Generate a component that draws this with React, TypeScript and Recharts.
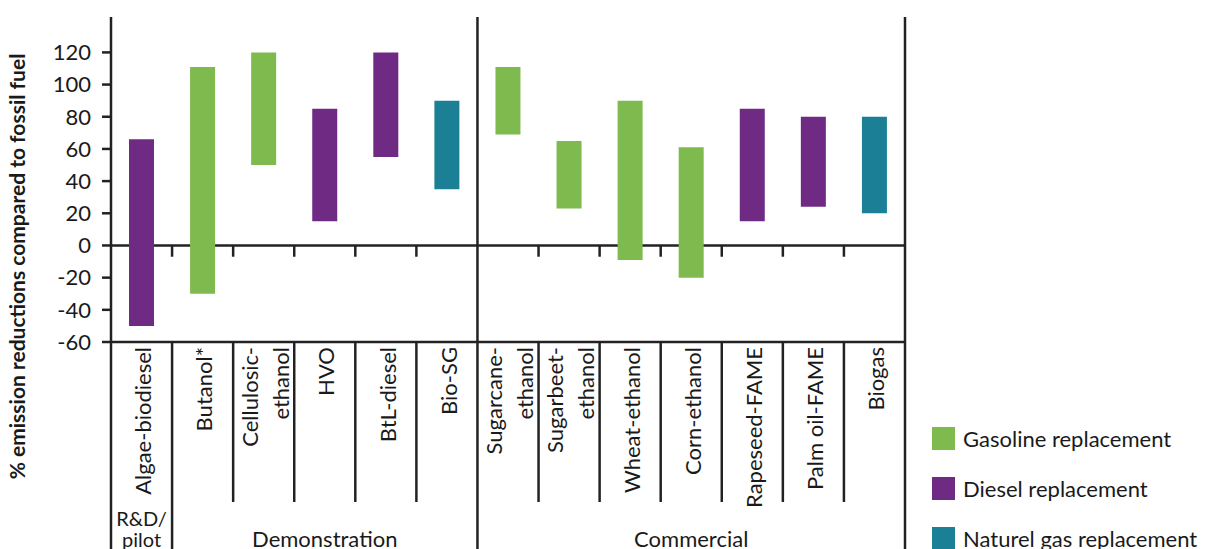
import React from 'react';
import { ComposedChart, Bar, Cell, XAxis, YAxis, ReferenceLine, Legend } from 'recharts';

// fuels, left to right
const categories = [
  'Algae-biodiesel', 'Butanol*', 'Cellulosic-ethanol', 'HVO', 'BtL-diesel', 'Bio-SG',
  'Sugarcane-ethanol', 'Sugarbeet-ethanol', 'Wheat-ethanol', 'Corn-ethanol',
  'Rapeseed-FAME', 'Palm oil-FAME', 'Biogas',
];
const categoryLines = [
  ['Algae-biodiesel'], ['Butanol*'], ['Cellulosic-', 'ethanol'], ['HVO'], ['BtL-diesel'], ['Bio-SG'],
  ['Sugarcane-', 'ethanol'], ['Sugarbeet-', 'ethanol'], ['Wheat-ethanol'], ['Corn-ethanol'],
  ['Rapeseed-FAME'], ['Palm oil-FAME'], ['Biogas'],
];
const lows = [-50, -30, 50, 15, 55, 35, 69, 23, -9, -20, 15, 24, 20];
const highs = [66, 111, 120, 85, 120, 90, 111, 65, 90, 61, 85, 80, 80];
const fuelTypes = ['diesel', 'gasoline', 'gasoline', 'diesel', 'diesel', 'gas', 'gasoline', 'gasoline', 'gasoline', 'gasoline', 'diesel', 'diesel', 'gas'];

const yTicks = [-60, -40, -20, 0, 20, 40, 60, 80, 100, 120];

const groupTitles = ['Advanced biofuels', 'Conventional biofuels'];
const groupStarts = [0, 6];
const groupSizes = [6, 7];

const stageLabels = [['R&D/', 'pilot'], ['Demonstration'], ['Commercial']];
const stageStarts = [0, 1, 6];
const stageSizes = [1, 5, 7];

const legendLabels = ['Gasoline replacement', 'Diesel replacement', 'Naturel gas replacement'];
const legendKeys = ['gasoline', 'diesel', 'gas'];

const COLORS: Record<string, string> = {
  gasoline: '#7fba4f',
  diesel: '#6f2a84',
  gas: '#1b8096',
};

const FONT = 'Lato, "Open Sans", sans-serif';
const INK = '#1a1a1a';
const LINE = '#222222';
const LW = 2.5;

const W = 1208;
const H = 549;
const LEFT = 111;
const RIGHT = 303;
const TOP = 17;
const X_AXIS_H = 207;
const BAND = (W - LEFT - RIGHT) / categories.length;

const data = categories.map((name, i) => ({
  name,
  range: [lows[i], highs[i]],
  type: fuelTypes[i],
}));

const CategoryTick = (props: any) => {
  const { x, y, payload } = props;
  const i = payload.index ?? props.index;
  const left = x - BAND / 2;
  const lines = categoryLines[i];
  const si = stageStarts.indexOf(i);
  const cx = x + 2;
  const ty = y + 5;
  return (
    <g>
      <line x1={left} x2={left} y1={y} y2={si >= 0 ? y + X_AXIS_H : y + 160} stroke={LINE} strokeWidth={LW} />
      {i === categories.length - 1 && (
        <line x1={left + BAND} x2={left + BAND} y1={y} y2={y + X_AXIS_H} stroke={LINE} strokeWidth={LW} />
      )}
      <text
        x={cx}
        y={ty}
        transform={`rotate(-90, ${cx}, ${ty})`}
        textAnchor="end"
        fontFamily={FONT}
        fontSize={22}
        fill={INK}
      >
        {lines.map((l, k) => (
          <tspan key={k} x={cx} dy={k === 0 ? (lines.length === 1 ? '0.35em' : '-0.35em') : '1.4em'}>
            {l}
          </tspan>
        ))}
      </text>
      {si >= 0 &&
        stageLabels[si].map((l, k) => (
          <text
            key={k}
            x={left + (stageSizes[si] * BAND) / 2}
            y={y + (stageLabels[si].length === 1 ? 205 : 184 + k * 21)}
            textAnchor="middle"
            fontFamily={FONT}
            fontSize={stageLabels[si].length === 1 ? 22 : 20}
            fill={INK}
          >
            {l}
          </text>
        ))}
    </g>
  );
};

const GroupTick = (props: any) => {
  const { x, y, payload } = props;
  const i = payload.index ?? props.index;
  const gi = groupStarts.indexOf(i);
  if (gi < 0) return <g />;
  const left = x - BAND / 2;
  return (
    <text
      x={left + (groupSizes[gi] * BAND) / 2}
      y={y + 18}
      textAnchor="middle"
      fontFamily={FONT}
      fontSize={22}
      fill={INK}
    >
      {groupTitles[gi]}
    </text>
  );
};

const YTitle = (props: any) => {
  const { viewBox } = props;
  const lx = viewBox.x + 25;
  const ly = viewBox.y + viewBox.height / 2 + 87;
  return (
    <text
      x={lx}
      y={ly}
      transform={`rotate(-90, ${lx}, ${ly})`}
      textAnchor="middle"
      fontFamily={FONT}
      fontSize={21}
      fontWeight="bold"
      fill={INK}
    >
      % emission reductions compared to fossil fuel
    </text>
  );
};

const LegendBox = () => (
  <div style={{ fontFamily: FONT, fontSize: 22, color: INK }}>
    {legendLabels.map((l, i) => (
      <div key={l} style={{ display: 'flex', alignItems: 'center', height: 50, whiteSpace: 'nowrap' }}>
        <span style={{ width: 23, height: 23, background: COLORS[legendKeys[i]], marginRight: 8, flexShrink: 0 }} />
        {l}
      </div>
    ))}
  </div>
);

export default function App() {
  return (
    <div style={{ position: 'absolute', left: 0, top: 0, width: W, height: H, background: '#fff', overflow: 'hidden' }}>
      <ComposedChart width={W} height={H} data={data} margin={{ top: TOP, right: RIGHT, left: 0, bottom: 0 }}>
        <XAxis
          dataKey="name"
          height={X_AXIS_H}
          axisLine={{ stroke: LINE, strokeWidth: LW }}
          tickLine={false}
          tickSize={0}
          tickMargin={0}
          interval={0}
          tick={(p: any) => <CategoryTick {...p} />}
        />
        <XAxis
          xAxisId="top"
          orientation="top"
          dataKey="name"
          height={0}
          axisLine={false}
          tickLine={false}
          tickSize={0}
          tickMargin={0}
          interval={0}
          tick={(p: any) => <GroupTick {...p} />}
        />
        <YAxis
          domain={[-60, 142]}
          ticks={yTicks}
          width={LEFT}
          interval={0}
          allowDataOverflow
          tickSize={9}
          tickMargin={11}
          axisLine={{ stroke: LINE, strokeWidth: LW }}
          tickLine={{ stroke: LINE, strokeWidth: LW }}
          tick={{ fill: INK, fontSize: 22, fontFamily: FONT }}
          label={(p: any) => <YTitle {...p} />}
        />
        <ReferenceLine y={0} stroke={LINE} strokeWidth={LW} zIndex={0} />
        {categories.map((c, i) =>
          i === 0 || i === 6 ? null : (
            <ReferenceLine
              key={c}
              segment={[{ x: c, y: 0 }, { x: c, y: -7 }]}
              position="start"
              stroke={LINE}
              strokeWidth={LW}
              zIndex={0}
            />
          )
        )}
        <ReferenceLine x={categories[6]} position="start" stroke={LINE} strokeWidth={LW} />
        <ReferenceLine x={categories[categories.length - 1]} position="end" stroke={LINE} strokeWidth={LW} />
        <Bar dataKey="range" barSize={25} isAnimationActive={false}>
          {data.map((d) => (
            <Cell key={d.name} fill={COLORS[d.type]} />
          ))}
        </Bar>
        <Legend
          layout="vertical"
          align="center"
          verticalAlign="middle"
          content={() => <LegendBox />}
          wrapperStyle={{ left: 932, top: 413, width: 290 }}
        />
      </ComposedChart>
    </div>
  );
}
